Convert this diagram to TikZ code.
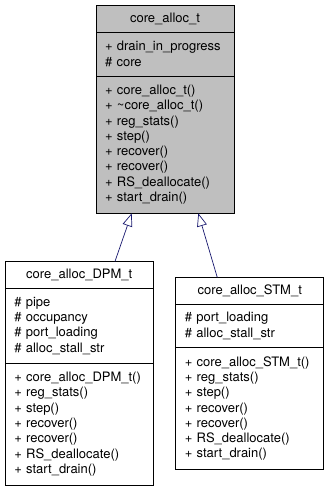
\documentclass[tikz,border=0pt]{standalone}
\usepackage{fontspec}
\setmainfont{TeX Gyre Heros}
\usetikzlibrary{arrows.meta, positioning, calc}
\definecolor{edgeblue}{RGB}{25, 25, 112}
\definecolor{basegray}{RGB}{191, 191, 191}

\begin{document}
\begin{tikzpicture}[
    x=1pt, y=-1pt,
    inh/.style={{Triangle[open, length=13pt, width=10pt]}-, edgeblue, line width=0.7pt},
    part/.style={draw, line width=0.8pt, inner xsep=9pt, inner ysep=1pt,
                 outer sep=0pt, align=left, anchor=north,
                 font=\fontsize{13}{15.3}\selectfont},
    head/.style={part, align=center, minimum height=27pt}
  ]
    \fill[white] (0,0) rectangle (328,491);
    \useasboundingbox (0,0) rectangle (328,491);

    % base class
    \node[head, fill=basegray, text width=120pt] (base) at (165,5) {core\_alloc\_t};
    \node[part, fill=basegray, text width=120pt, minimum height=44pt,
          below=0pt of base] (baseattr)
      {+ drain\_in\_progress\\\# core};
    \node[part, fill=basegray, text width=120pt, minimum height=137.3pt,
          below=0pt of baseattr] (baseops)
      {+ core\_alloc\_t()\\+ \textasciitilde core\_alloc\_t()\\+ reg\_stats()\\+ step()\\%
       + recover()\\+ recover()\\+ RS\_deallocate()\\+ start\_drain()};

    % derived classes
    \node[head, text width=130pt] (dpm) at (79.25,261.5) {core\_alloc\_DPM\_t};
    \node[part, text width=130pt, minimum height=74.4pt,
          below=0pt of dpm] (dpmattr)
      {\# pipe\\\# occupancy\\\# port\_loading\\\# alloc\_stall\_str};
    \node[part, text width=130pt, minimum height=122.3pt,
          below=0pt of dpmattr] (dpmops)
      {+ core\_alloc\_DPM\_t()\\+ reg\_stats()\\+ step()\\+ recover()\\%
       + recover()\\+ RS\_deallocate()\\+ start\_drain()};

    \node[head, text width=130pt] (stm) at (249.75,277.3) {core\_alloc\_STM\_t};
    \node[part, text width=130pt, minimum height=43.3pt,
          below=0pt of stm] (stmattr)
      {\# port\_loading\\\# alloc\_stall\_str};
    \node[part, text width=130pt, minimum height=122pt,
          below=0pt of stmattr] (stmops)
      {+ core\_alloc\_STM\_t()\\+ reg\_stats()\\+ step()\\+ recover()\\%
       + recover()\\+ RS\_deallocate()\\+ start\_drain()};

    \draw[inh] ($(baseops.south)+(-33.3,0)$) -- ($(dpm.north)+(35.7,0)$);
    \draw[inh] ($(baseops.south)+(33.3,0)$) -- ($(stm.north)+(-32.5,0)$);
\end{tikzpicture}
\end{document}
